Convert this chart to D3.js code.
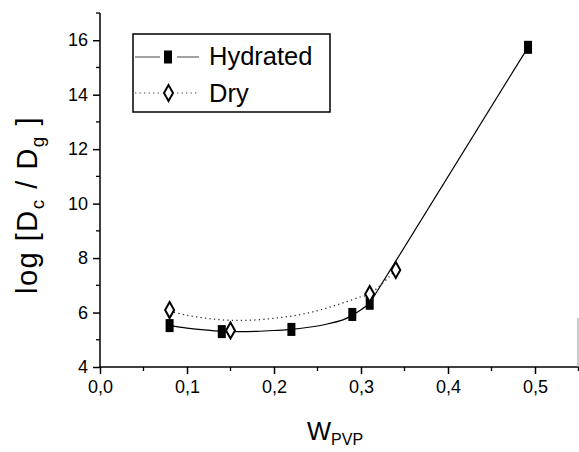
<!DOCTYPE html>
<html>
<head>
<meta charset="utf-8">
<script src="https://cdn.jsdelivr.net/npm/d3@7/dist/d3.min.js"></script>
<style>
  html, body { margin: 0; padding: 0; background: #fff; }
  svg { display: block; font-family: "Liberation Sans", Arial, Helvetica, sans-serif; }
</style>
</head>
<body>
<svg id="chart" width="579" height="452"></svg>
<script>
// ---- data ----
const hydratedX = [0.08, 0.14, 0.22, 0.29, 0.31, 0.492];
const hydratedY = [5.52, 5.30, 5.38, 5.93, 6.34, 15.74];
const dryX = [0.08, 0.15, 0.31, 0.34];
const dryY = [6.09, 5.34, 6.68, 7.56];
// fitted curves as drawn in the figure
const hydFitX = [0.08, 0.10, 0.12, 0.14, 0.16, 0.18, 0.20, 0.22, 0.24, 0.26, 0.28, 0.29, 0.30, 0.31];
const hydFitY = [5.52, 5.43, 5.36, 5.31, 5.30, 5.31, 5.34, 5.38, 5.46, 5.57, 5.74, 5.90, 6.10, 6.34];
const hydLineX = [0.31, 0.492];
const hydLineY = [6.34, 15.74];
const dryFitX = [0.08, 0.10, 0.12, 0.14, 0.16, 0.18, 0.20, 0.22, 0.24, 0.26, 0.28, 0.30, 0.31, 0.34];
const dryFitY = [6.05, 5.90, 5.80, 5.73, 5.71, 5.73, 5.79, 5.87, 5.99, 6.16, 6.36, 6.58, 6.68, 7.56];
const xTicks = [0, 0.1, 0.2, 0.3, 0.4, 0.5];
const xTickLabels = ["0,0", "0,1", "0,2", "0,3", "0,4", "0,5"];
const xMinor = [0.05, 0.15, 0.25, 0.35, 0.45, 0.55];
const yTicks = [4, 6, 8, 10, 12, 14, 16];
const yTickLabels = ["4", "6", "8", "10", "12", "14", "16"];
const yMinor = [5, 7, 9, 11, 13, 15, 17];
const seriesNames = ["Hydrated", "Dry"];

const svg = d3.select("#chart");
const x = d3.scaleLinear().domain([0, 0.55]).range([100, 578.5]);
const y = d3.scaleLinear().domain([4, 17]).range([367, 13]);

// ---- axes ----
const xAxis = d3.axisBottom(x).tickValues(xTicks).tickSize(7).tickPadding(6)
  .tickFormat((d, i) => xTickLabels[i]);
const gx = svg.append("g").attr("transform", `translate(0,${y(4)})`).call(xAxis);
gx.select(".domain").attr("stroke-width", 1.5).attr("d", `M${x(0)},0H579`);
gx.selectAll(".tick line").attr("stroke-width", 1.5);
gx.selectAll(".tick text").attr("font-size", 18).attr("fill", "#000");
gx.selectAll(".minor").data(xMinor).enter().append("line")
  .attr("x1", d => x(d)).attr("x2", d => x(d)).attr("y1", 0).attr("y2", 4)
  .attr("stroke", "#000").attr("stroke-width", 1.3);

const yAxis = d3.axisLeft(y).tickValues(yTicks).tickSize(7).tickPadding(5)
  .tickFormat((d, i) => yTickLabels[i]);
const gy = svg.append("g").attr("transform", `translate(${x(0)},0)`).call(yAxis);
gy.select(".domain").attr("stroke-width", 1.5).attr("d", `M0,${y(4)}V${y(17)}`);
gy.selectAll(".tick line").attr("stroke-width", 1.5);
gy.selectAll(".tick text").attr("font-size", 18).attr("fill", "#000");
gy.selectAll(".minor").data(yMinor).enter().append("line")
  .attr("x1", 0).attr("x2", -4).attr("y1", d => y(d)).attr("y2", d => y(d))
  .attr("stroke", "#000").attr("stroke-width", 1.3);

// faint right-frame remnant
svg.append("line").attr("x1", 578).attr("x2", 578).attr("y1", 318).attr("y2", y(4))
  .attr("stroke", "#999").attr("stroke-width", 1);

// ---- lines ----
const lineGen = d3.line().x(d => x(d[0])).y(d => y(d[1])).curve(d3.curveCatmullRom);
svg.append("path").datum(d3.zip(hydFitX, hydFitY)).attr("d", lineGen)
  .attr("fill", "none").attr("stroke", "#000").attr("stroke-width", 1.2);
svg.append("path").datum(d3.zip(hydLineX, hydLineY)).attr("d", d3.line().x(d => x(d[0])).y(d => y(d[1])))
  .attr("fill", "none").attr("stroke", "#000").attr("stroke-width", 1.2);
svg.append("path").datum(d3.zip(dryFitX, dryFitY)).attr("d", lineGen)
  .attr("fill", "none").attr("stroke", "#333").attr("stroke-width", 1.3)
  .attr("stroke-dasharray", "1.3,3.2");

// ---- markers ----
const sqW = 8, sqH = 13;
svg.selectAll(".hyd").data(d3.zip(hydratedX, hydratedY)).enter().append("rect")
  .attr("x", d => x(d[0]) - sqW / 2).attr("y", d => y(d[1]) - sqH / 2)
  .attr("width", sqW).attr("height", sqH).attr("fill", "#000");
const diamond = (cx, cy) => `M${cx},${cy - 8}L${cx + 4.5},${cy}L${cx},${cy + 8}L${cx - 4.5},${cy}Z`;
svg.selectAll(".dry").data(d3.zip(dryX, dryY)).enter().append("path")
  .attr("d", d => diamond(x(d[0]), y(d[1])))
  .attr("fill", "#fff").attr("stroke", "#000").attr("stroke-width", 2);

// ---- legend ----
const lg = svg.append("g");
lg.append("rect").attr("x", 133).attr("y", 34).attr("width", 197).attr("height", 78)
  .attr("fill", "#fff").attr("stroke", "#000").attr("stroke-width", 1.5);
// Hydrated row
lg.append("line").attr("x1", 135).attr("x2", 160).attr("y1", 57).attr("y2", 57)
  .attr("stroke", "#444").attr("stroke-width", 1);
lg.append("line").attr("x1", 177).attr("x2", 199).attr("y1", 57).attr("y2", 57)
  .attr("stroke", "#444").attr("stroke-width", 1);
lg.append("rect").attr("x", 164).attr("y", 50.5).attr("width", sqW).attr("height", sqH).attr("fill", "#000");
lg.append("text").attr("x", 209).attr("y", 65).attr("font-size", 25.5).text(seriesNames[0]);
// Dry row
lg.append("line").attr("x1", 135).attr("x2", 160).attr("y1", 93).attr("y2", 93)
  .attr("stroke", "#444").attr("stroke-width", 1).attr("stroke-dasharray", "1.3,3.2");
lg.append("line").attr("x1", 177).attr("x2", 199).attr("y1", 93).attr("y2", 93)
  .attr("stroke", "#444").attr("stroke-width", 1).attr("stroke-dasharray", "1.3,3.2");
lg.append("path").attr("d", diamond(168.5, 93)).attr("fill", "#fff").attr("stroke", "#000").attr("stroke-width", 2);
lg.append("text").attr("x", 209).attr("y", 102).attr("font-size", 25.5).text(seriesNames[1]);

// ---- axis titles ----
const yt = svg.append("text").attr("transform", `translate(37,205) rotate(-90)`)
  .attr("text-anchor", "middle").attr("font-size", 29).attr("letter-spacing", 1.5);
yt.append("tspan").text("log [D");
yt.append("tspan").attr("font-size", 19).attr("dy", 7).text("c");
yt.append("tspan").attr("dy", -7).text(" / D");
yt.append("tspan").attr("font-size", 19).attr("dy", 7).text("g");
yt.append("tspan").attr("dy", -7).text(" ]");

const xt = svg.append("text").attr("x", 307).attr("y", 440).attr("font-size", 25.5);
xt.append("tspan").text("W");
xt.append("tspan").attr("font-size", 16).attr("dy", 5).text("PVP");
</script>
</body>
</html>
